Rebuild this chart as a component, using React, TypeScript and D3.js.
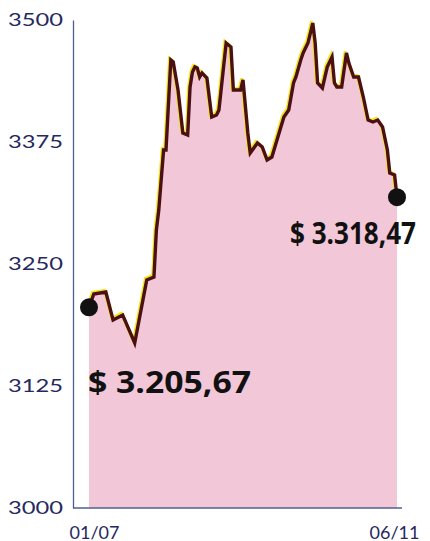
import React, { useRef, useEffect } from "react";
import * as d3 from "d3";

// days after 01/07/2019 and the closing value for that day
const dayOffsets = [0, 2, 7, 10, 14, 19, 24, 27, 28, 29, 30, 31, 32, 34, 35, 37, 39, 41, 42, 43, 44, 45, 46, 47, 49, 51, 53, 54, 57, 59, 60, 63, 64, 66, 67, 70, 72, 74, 76, 79, 81, 83, 85, 86, 88, 89, 91, 93, 94, 95, 97, 99, 101, 102, 103, 105, 107, 108, 110, 112, 114, 116, 118, 120, 122, 124, 125, 127, 128];
const closes = [3205.67, 3219.3, 3221.3, 3192.6, 3197.7, 3169.1, 3233.6, 3236.7, 3284.8, 3305.3, 3336.1, 3366.8, 3366.8, 3459, 3457, 3428.3, 3384.2, 3382.2, 3431.4, 3446.7, 3451.8, 3450.8, 3441.6, 3445.7, 3440.6, 3400.6, 3402.7, 3407.8, 3476.4, 3472.3, 3428.3, 3428.3, 3438.5, 3384.2, 3363.7, 3374, 3369.9, 3356.6, 3359.6, 3384.2, 3400.6, 3407.8, 3435.5, 3441.6, 3459, 3466.2, 3476.4, 3496.9, 3476.4, 3435.5, 3430.3, 3451.8, 3462.1, 3435.5, 3431.4, 3431.4, 3466.2, 3455.9, 3441.6, 3441.6, 3421.1, 3397.5, 3395.5, 3397.5, 3390.4, 3366.8, 3343.2, 3341.2, 3318.47];
const yTicks = [3000, 3125, 3250, 3375, 3500];
const xTickLabels = ["01/07", "06/11"];
const startLabel = "$ 3.205,67";
const endLabel = "$ 3.318,47";

const startDate = new Date(2019, 6, 1);

const App = () => {
  const svgRef = useRef<SVGSVGElement>(null);
  const width = 430;
  const height = 541;

  useEffect(() => {
    const svg = d3.select(svgRef.current);
    svg.selectAll("*").remove();

    const data = dayOffsets.map((d, i) => ({
      date: d3.timeDay.offset(startDate, d),
      value: closes[i],
    }));

    const axisX = 73;
    const x = d3
      .scaleTime()
      .domain([data[0].date, data[data.length - 1].date])
      .range([89, 397]);
    const y = d3.scaleLinear().domain([3000, 3500]).range([508, 20]);

    const ink = "#26285e";

    // area
    const area = d3
      .area<any>()
      .x((d) => x(d.date))
      .y0(y(3000))
      .y1((d) => y(d.value));
    svg.append("path").datum(data).attr("d", area).attr("fill", "#f2c7d8");

    // axes
    const yAxis = svg
      .append("g")
      .attr("transform", `translate(${axisX},0)`)
      .call(d3.axisLeft(y).tickValues(yTicks).tickSize(0).tickPadding(10).tickFormat(d3.format("d")));
    yAxis.select(".domain").attr("stroke", "#4f5f95").attr("stroke-width", 1.3);
    yAxis
      .selectAll("text")
      .attr("fill", ink)
      .attr("font-family", "Lato, sans-serif")
      .attr("font-weight", 400)
      .attr("font-size", 18)
      .attr("textLength", 55)
      .attr("lengthAdjust", "spacingAndGlyphs");

    svg
      .append("line")
      .attr("x1", axisX)
      .attr("x2", x.range()[1] + 5)
      .attr("y1", y(3000))
      .attr("y2", y(3000))
      .attr("stroke", "#4f5f95")
      .attr("stroke-width", 1.3);

    const xAxis = svg
      .append("g")
      .attr("transform", `translate(0,${y(3000)})`)
      .call(
        d3
          .axisBottom(x)
          .tickValues(x.domain())
          .tickSize(0)
          .tickPadding(18)
          .tickFormat((_, i) => xTickLabels[i])
      );
    xAxis.select(".domain").remove();
    xAxis
      .selectAll("text")
      .attr("fill", ink)
      .attr("font-family", "Lato, sans-serif")
      .attr("font-weight", 400)
      .attr("font-size", 18)
      .attr("dx", (_, i) => (i === 0 ? 5 : -3));

    // line with yellow misregistration glow
    const line = d3
      .line<any>()
      .x((d) => x(d.date))
      .y((d) => y(d.value));
    svg
      .append("path")
      .datum(data)
      .attr("d", line)
      .attr("transform", "translate(-1.3,-1.6)")
      .attr("fill", "none")
      .attr("stroke", "#f4e41c")
      .attr("stroke-width", 3)
      .attr("stroke-linejoin", "miter");
    svg
      .append("path")
      .datum(data)
      .attr("d", line)
      .attr("fill", "none")
      .attr("stroke", "#4a1014")
      .attr("stroke-width", 3.4)
      .attr("stroke-linejoin", "miter");

    // end points
    const ends = [data[0], data[data.length - 1]];
    svg
      .selectAll("circle.end")
      .data(ends)
      .enter()
      .append("circle")
      .attr("class", "end")
      .attr("cx", (d) => x(d.date))
      .attr("cy", (d) => y(d.value))
      .attr("r", 9)
      .attr("fill", "#111");

    const labels = [
      { text: startLabel, d: ends[0], dx: -1, dy: 86, len: 163 },
      { text: endLabel, d: ends[1], dx: -107, dy: 47, len: 126 },
    ];
    svg
      .selectAll("text.note")
      .data(labels)
      .enter()
      .append("text")
      .attr("class", "note")
      .attr("x", (d) => x(d.d.date) + d.dx)
      .attr("y", (d) => y(d.d.value) + d.dy)
      .attr("font-family", "'Open Sans', sans-serif")
      .attr("font-weight", 700)
      .attr("font-size", 30)
      .attr("fill", "#111")
      .attr("textLength", (d) => d.len)
      .attr("lengthAdjust", "spacingAndGlyphs")
      .text((d) => d.text);
  }, []);

  return (
    <svg
      ref={svgRef}
      width={width}
      height={height}
      style={{ position: "absolute", left: 0, top: 0, background: "#fff" }}
    />
  );
};

export default App;
